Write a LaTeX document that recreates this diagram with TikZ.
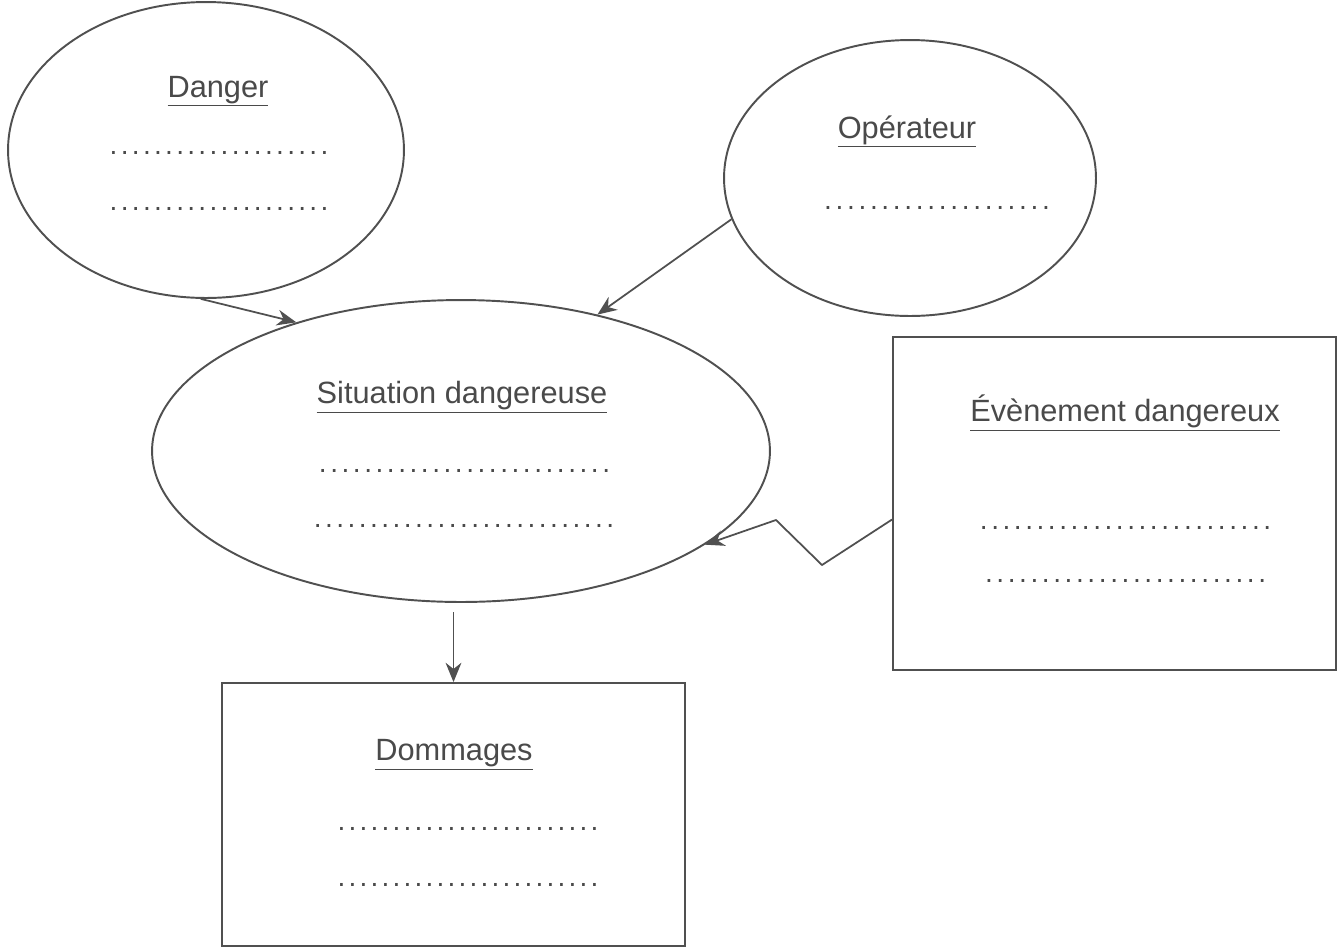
\documentclass[tikz,border=0pt]{standalone}
\usepackage{fontspec}
\setmainfont{Liberation Sans}
\usetikzlibrary{shapes.geometric,arrows.meta,calc}
\definecolor{ink}{HTML}{505050}
\definecolor{txt}{HTML}{4A4A4A}
\newcommand\dotrow[1]{\hbox to #1{\xleaders\hbox to 6.25pt{\hss.\hss}\hfill}}
\tikzset{
  shapeline/.style={draw=ink, line width=1.1pt},
  ell/.style={shapeline, ellipse, inner sep=0pt},
  boxnode/.style={shapeline, rectangle, inner sep=0pt},
  ttl/.style={anchor=base, text=txt, font=\fontsize{17.5}{20}\selectfont, inner sep=0pt},
  dots/.style={anchor=center, text=txt, font=\fontsize{16}{20}\selectfont, inner sep=0pt},
  arr/.style={draw=ink, line width=1pt, -{Stealth[length=11pt,width=9pt]}},
}
\begin{document}
\begin{tikzpicture}[x=0.02cm,y=-0.02cm]
\fill[white] (0,0) rectangle (1339,948);
\useasboundingbox (0,0) rectangle (1339,948);
% shapes
\node[ell, minimum width=7.92cm, minimum height=5.92cm] (danger) at (206,150) {};
\node[ell, minimum width=7.44cm, minimum height=5.52cm] (op) at (910,178) {};
\node[ell, minimum width=12.36cm, minimum height=6.04cm] (sit) at (461,451) {};
\node[boxnode, minimum width=8.86cm, minimum height=6.66cm] (ev) at (1114.5,503.5) {};
\node[boxnode, minimum width=9.26cm, minimum height=5.26cm] (dom) at (453.5,814.5) {};
% titles
\node[ttl] (dangerT) at (218,97) {\underline{Danger}};
\node[ttl] (opT) at (907,138) {\underline{Opérateur}};
\node[ttl] (sitT) at (462,403) {\underline{Situation dangereuse}};
\node[ttl] (evT) at (1125,421) {\underline{Évènement dangereux}};
\node[ttl] (domT) at (454,760) {\underline{Dommages}};
% dotted lines
\node[dots] (d1) at (219,153) {\dotrow{4.44cm}};
\node[dots] (d2) at (219,209) {\dotrow{4.44cm}};
\node[dots] (o1) at (937,208) {\dotrow{4.6cm}};
\node[dots] (s1) at (464.5,471) {\dotrow{5.9cm}};
\node[dots] (s2) at (464,526) {\dotrow{6.08cm}};
\node[dots] (e1) at (1125.5,528) {\dotrow{5.9cm}};
\node[dots] (e2) at (1125.5,581) {\dotrow{5.7cm}};
\node[dots] (m1) at (468,829) {\dotrow{5.28cm}};
\node[dots] (m2) at (468,885) {\dotrow{5.28cm}};
% connectors
\draw[arr] (danger.268) -- (sit.142);
\draw[arr] (op.193) -- (sit.45);
\coordinate (z1) at (822,565);
\coordinate (z2) at (776,520);
\draw[arr] ($(ev.west)+(0,16)$) -- (z1) -- (z2) -- (sit.-21);
\coordinate (dstart) at ($(dom.north)+(0,-70)$);
\draw[arr] (dstart) -- (dom.north);
\end{tikzpicture}
\end{document}
